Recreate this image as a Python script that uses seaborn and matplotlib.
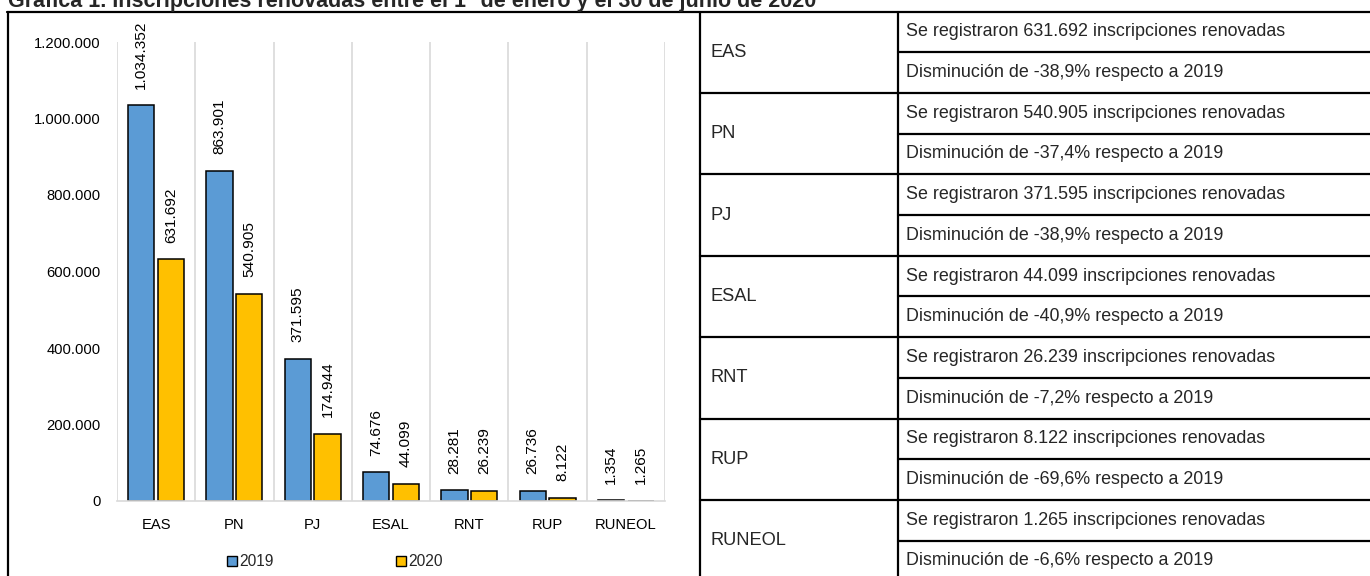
import matplotlib
matplotlib.use("Agg")
import matplotlib.pyplot as plt
import matplotlib.patches as mpatches
from matplotlib.lines import Line2D
from matplotlib import font_manager
import seaborn as sns
import pandas as pd

# ---------------- data ----------------
categories = ["EAS", "PN", "PJ", "ESAL", "RNT", "RUP", "RUNEOL"]
series_names = ["2019", "2020"]
values_2019 = [1034352, 863901, 371595, 74676, 28281, 26736, 1354]
values_2020 = [631692, 540905, 174944, 44099, 26239, 8122, 1265]
y_ticks = [0, 200000, 400000, 600000, 800000, 1000000, 1200000]
table_registered = ["631.692", "540.905", "371.595", "44.099", "26.239", "8.122", "1.265"]
table_change = ["-38,9%", "-37,4%", "-38,9%", "-40,9%", "-7,2%", "-69,6%", "-6,6%"]
title = "Gráfica 1. Inscripciones renovadas entre el 1° de enero y el 30 de junio de 2020"
colors = ["#5B9BD5", "#FFC000"]


def fmt(v):
    return f"{v:,.0f}".replace(",", ".")


sns.set_theme(style="white")
names = {f.name for f in font_manager.fontManager.ttflist}
NARROW = "Liberation Sans Narrow" in names
main_font = "Liberation Sans Narrow" if NARROW else "Liberation Sans"
scale = 1.0 if NARROW else 0.82
plt.rcParams["font.family"] = [main_font, "DejaVu Sans"]

W, H = 1370, 576
fig = plt.figure(figsize=(W / 100, H / 100), dpi=100)


def fx(x):
    return x / W


def fy(y):
    return 1 - y / H


# ---------------- chart ----------------
left, right, top, bottom = 117, 665, 42, 501
ax = fig.add_axes([fx(left), fy(bottom), fx(right) - fx(left), (bottom - top) / H])

df = pd.DataFrame({
    "cat": categories * 2,
    "year": [series_names[0]] * len(categories) + [series_names[1]] * len(categories),
    "value": values_2019 + values_2020,
})
sns.barplot(data=df, x="cat", y="value", hue="year", order=categories,
            hue_order=series_names, palette=colors, width=0.76, gap=0.12,
            edgecolor="black", linewidth=1.1, saturation=1, legend=False, ax=ax)

ax.set_ylim(0, 1200000)
ax.set_xlim(-0.5, len(categories) - 0.5)
ax.set_yticks(y_ticks)
ax.set_yticklabels([fmt(v) for v in y_ticks])
ax.set_xlabel("")
ax.set_ylabel("")
fs_chart = 13 * scale
ax.tick_params(axis="both", length=0, labelsize=fs_chart, colors="black", pad=12)
for s in ["left", "right", "top"]:
    ax.spines[s].set_visible(False)
ax.spines["bottom"].set_color("#D9D9D9")
ax.spines["bottom"].set_linewidth(1.2)
for i in range(len(categories) + 1):
    ax.axvline(i - 0.5, color="#D9D9D9", lw=1.2, zorder=0)

for cont in ax.containers:
    ax.bar_label(cont, labels=[fmt(v) for v in cont.datavalues], rotation=90,
                 padding=12, fontsize=fs_chart * 1.04, color="black")

handles = [mpatches.Patch(facecolor=c, edgecolor="black", linewidth=1.0) for c in colors]
ax.legend(handles, series_names, loc="center", bbox_to_anchor=(fx(335), fy(562)),
          bbox_transform=fig.transFigure, ncol=2, frameon=False, fontsize=fs_chart * 1.05,
          handlelength=0.6, handleheight=0.6, handletextpad=0.15, columnspacing=7.9)

# ---------------- frame & table ----------------
lw = 1.6


def hline(x0, x1, y):
    fig.add_artist(Line2D([fx(x0), fx(x1)], [fy(y), fy(y)], color="black", lw=lw))


def vline(x, y0, y1):
    fig.add_artist(Line2D([fx(x), fx(x)], [fy(y0), fy(y1)], color="black", lw=lw))


top_y = 11.5
row_h = 40.7
col_a, col_b, col_c = 700, 898, 1372
hline(7, col_c, top_y)
vline(8, top_y, H + 2)
vline(col_a, top_y, H + 2)
vline(col_b, top_y, H + 2)

fs_table = 16 * scale
for i, cat in enumerate(categories):
    y0 = top_y + 2 * i * row_h
    if i > 0:
        hline(col_a, col_b, y0)
        hline(col_b, col_c, y0)
    hline(col_b, col_c, y0 + row_h)
    fig.text(fx(710), fy(y0 + row_h), cat, fontsize=fs_table, va="center", ha="left")
    fig.text(fx(906), fy(y0 + row_h / 2),
             f"Se registraron {table_registered[i]} inscripciones renovadas",
             fontsize=fs_table * 0.98, va="center", ha="left")
    fig.text(fx(906), fy(y0 + 1.5 * row_h),
             f"Disminución de {table_change[i]} respecto a 2019",
             fontsize=fs_table * 0.98, va="center", ha="left")

fig.text(fx(8), fy(6.5), title, fontsize=15.5, fontweight="bold",
         va="baseline", ha="left")

fig.savefig("out.png", dpi=100)
